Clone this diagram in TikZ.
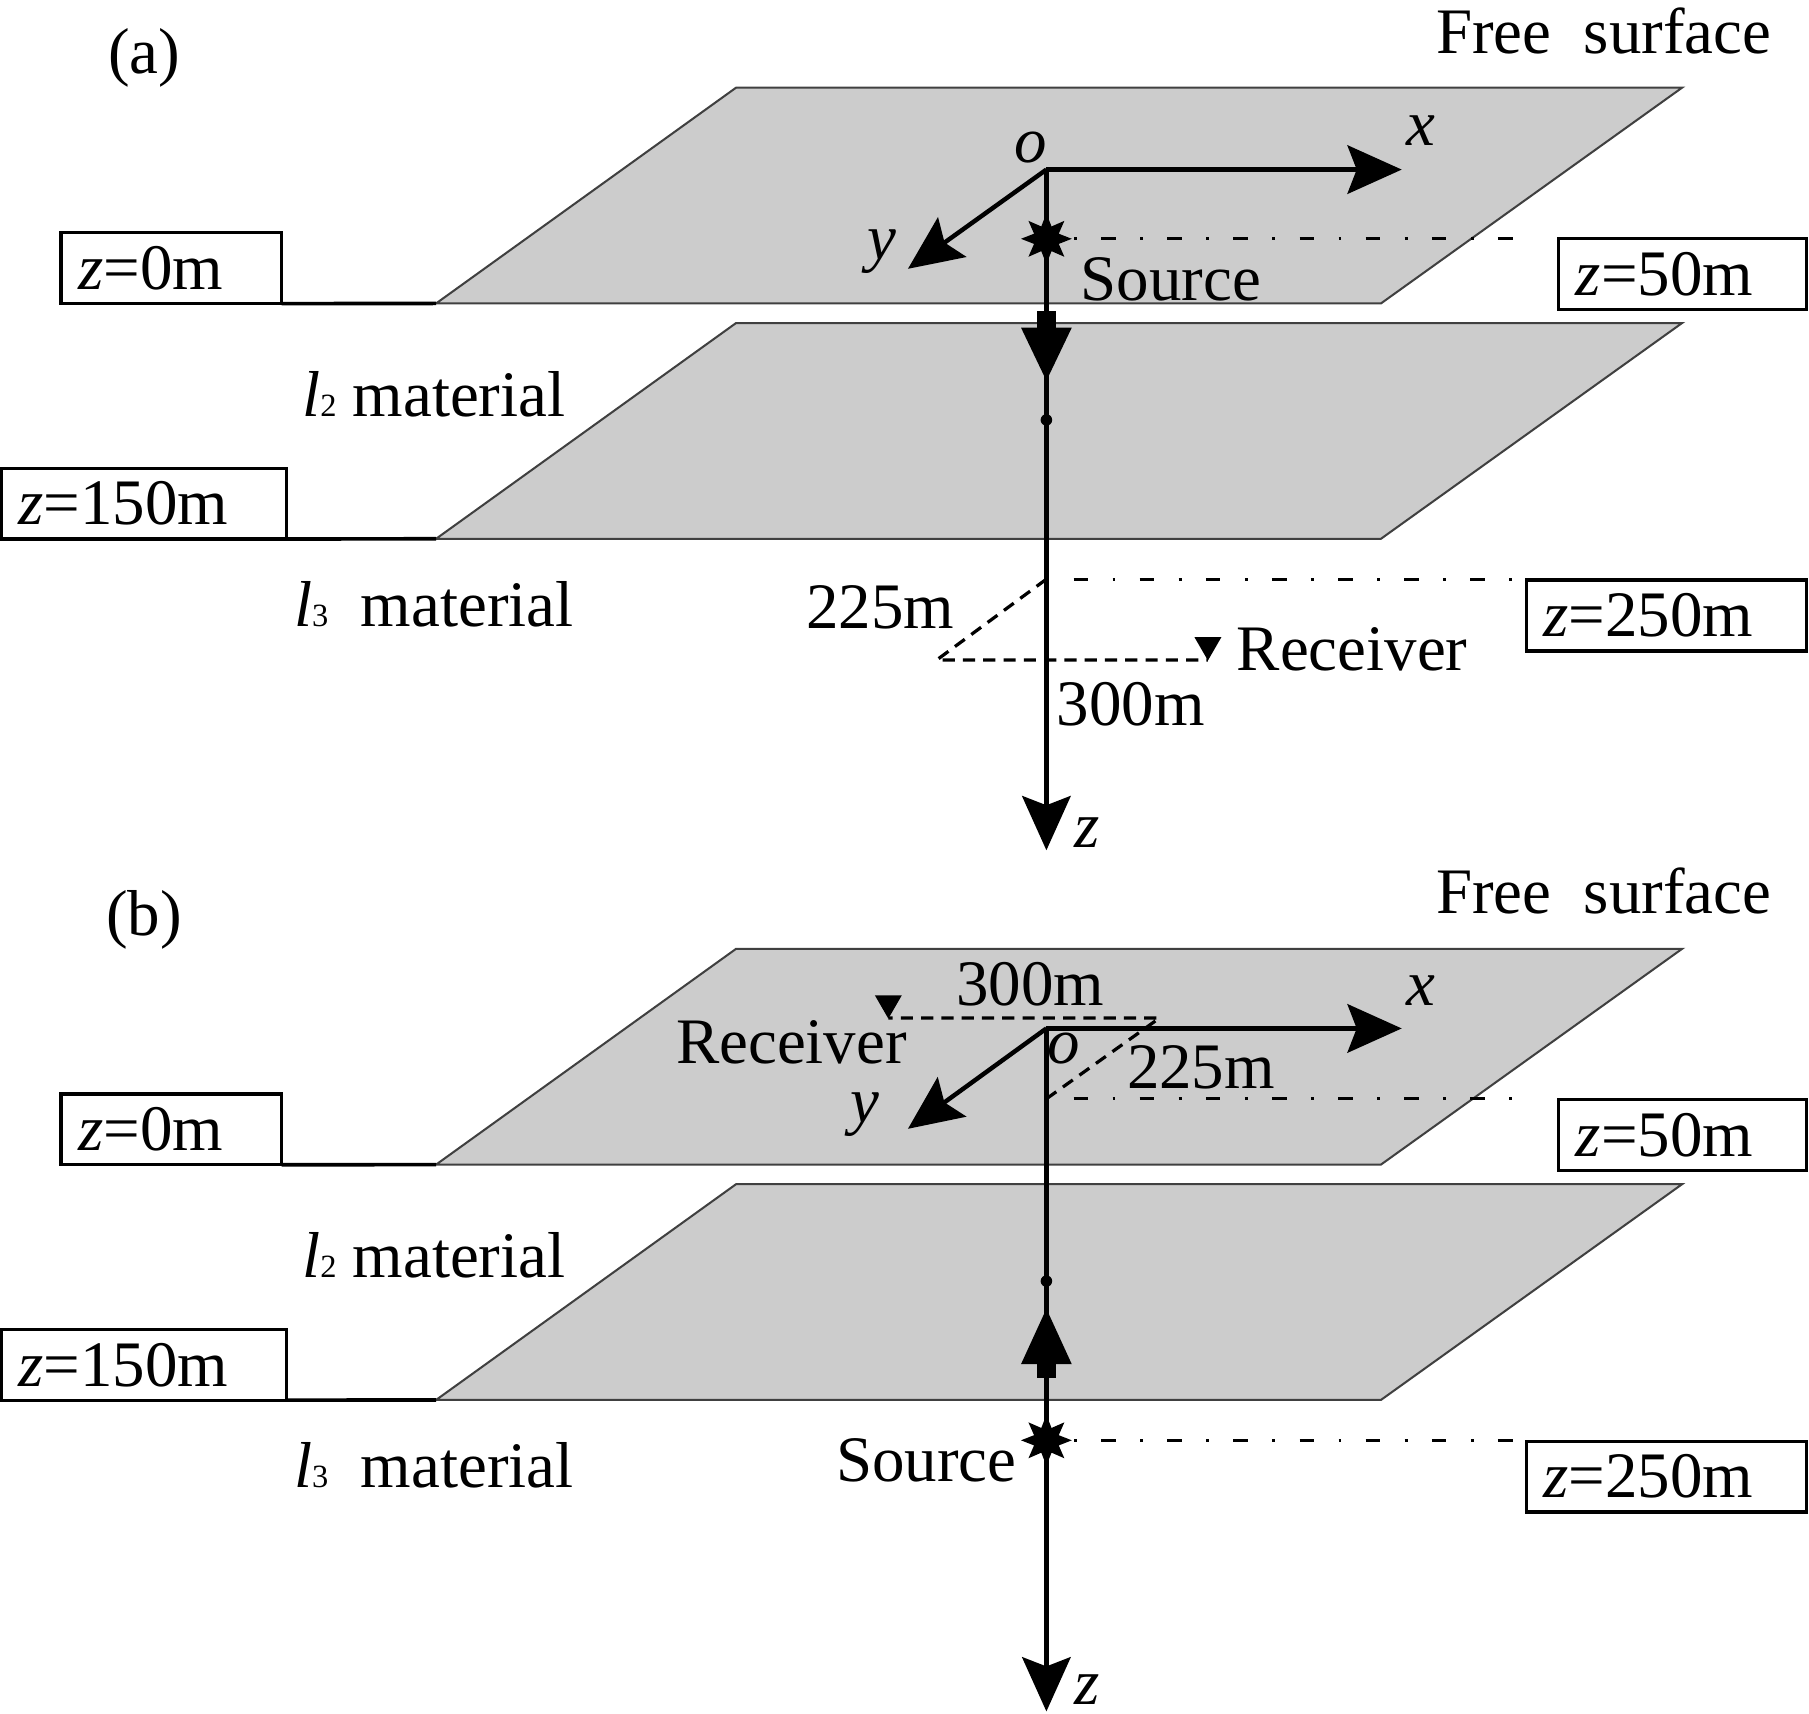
\documentclass[tikz,border=0pt]{standalone}
\usepackage{fontspec}
\setmainfont{Liberation Serif}
\usepackage{tikz}
\usetikzlibrary{shapes,shapes.geometric,arrows,arrows.meta,calc,positioning}
\tikzstyle{layer} = [fill=black!20, draw=black!75, line width=0.5pt]
\tikzstyle{depth} = [draw, rectangle, line width=0.8pt, outer sep=0pt, minimum height=0.61cm, inner xsep=0.15cm, align=left]
\tikzstyle{axis} = [draw, line width=1.1pt, -{Stealth[length=0.47cm, width=0.42cm, inset=0.08cm]}]
\tikzstyle{lead} = [draw, line width=0.9pt]
\tikzstyle{level} = [draw, line width=0.8pt, dash pattern=on 0.7pt off 6pt on 3.6pt off 6pt]
\tikzstyle{offset} = [draw, line width=0.8pt, dash pattern=on 3pt off 2pt]
\tikzstyle{source} = [star, star points=8, star point ratio=1.9, fill, inner sep=0pt, minimum size=0.44cm]
\tikzstyle{receiver} = [regular polygon, regular polygon sides=3, shape border rotate=180, fill, inner sep=0pt, minimum size=0.27cm]
\tikzstyle{pt} = [circle, fill, inner sep=0pt, minimum size=0.1cm]
\begin{document}
\begin{tikzpicture}[x=0.01cm, y=-0.01cm, font=\fontsize{16}{19}\selectfont]
    \useasboundingbox (0,0) rectangle (1568,1485);
    % (a) source near the surface
    \node (taga) at (125,50) {(a)};
    \node (freea) at (1390,27) {Free~~surface};
    \path[layer] (638,76) -- (1458,76) -- (1197,263) -- (378,263) -- cycle;
    \path[layer] (638,280) -- (1458,280) -- (1197,467) -- (378,467) -- cycle;
    \coordinate (s1a) at (378,263);
    \coordinate (s2a) at (378,467);
    \node[depth, text width=1.61cm] (z0a) at (148.5,232.5) {\textit{z}=0m};
    \node[depth, text width=2.17cm] (z150a) at (124.5,436.5) {\textit{z}=150m};
    \node[depth, text width=1.85cm] (z50a) at (1458.5,237.5) {\textit{z}=50m};
    \node[depth, text width=2.13cm] (z250a) at (1444.5,533.5) {\textit{z}=250m};
    \path[lead] (z0a.south east) -- (s1a);
    \path[lead] (z150a.south east) -- (s2a);
    \node (l2a) at (376,342) {\textit{l}{\footnotesize 2} material};
    \node (l3a) at (376,524) {\textit{l}{\footnotesize 3}~~material};
    \coordinate (oa) at (907,147);
    \coordinate (xa) at (1215,147);
    \coordinate (ya) at (787,233);
    \coordinate (za) at (907,737);
    \path[axis] (oa) -- (xa);
    \path[axis] (oa) -- (ya);
    \path[axis] (oa) -- (za);
    \node (olaba) at (893,128) {\textit{o}};
    \node (xlaba) at (1232,113) {\textit{x}};
    \node (ylaba) at (764,218) {\textit{y}};
    \node (zlaba) at (942,722) {\textit{z}};
    \node[source] (srca) at (907,207) {};
    \node (srclaba) at (1015,242) {Source};
    \coordinate (e50a) at (1325,207);
    \path[level] (srca) -- (e50a);
    \fill (899,270) rectangle (915,286);
    \fill (885,284) -- (929,284) -- (907,330) -- cycle;
    \node[pt] (pa) at (907,364) {};
    \coordinate (ca) at (907,502);
    \coordinate (e250a) at (1325,502);
    \path[level] (ca) -- (e250a);
    \coordinate (da) at (812,572);
    \coordinate (ra) at (1047,572);
    \node[receiver] (rxa) at (1047,559) {};
    \path[offset] (ca) -- (da) -- (ra);
    \node (d225a) at (763,526) {225m};
    \node (d300a) at (980,610) {300m};
    \node (rxlaba) at (1172,563) {Receiver};
    % (b) source in the lower layer
    \begin{scope}[yshift=-7.46cm]
        \node (tagb) at (125,51) {(b)};
        \node (freeb) at (1390,26) {Free~~surface};
        \path[layer] (638,76) -- (1458,76) -- (1197,263) -- (378,263) -- cycle;
        \path[layer] (638,280) -- (1458,280) -- (1197,467) -- (378,467) -- cycle;
        \coordinate (s1b) at (378,263);
        \coordinate (s2b) at (378,467);
        \node[depth, text width=1.61cm] (z0b) at (148.5,232.5) {\textit{z}=0m};
        \node[depth, text width=2.17cm] (z150b) at (124.5,436.5) {\textit{z}=150m};
        \node[depth, text width=1.85cm] (z50b) at (1458.5,237.5) {\textit{z}=50m};
        \node[depth, text width=2.13cm] (z250b) at (1444.5,533.5) {\textit{z}=250m};
        \path[lead] (z0b.south east) -- (s1b);
        \path[lead] (z150b.south east) -- (s2b);
        \node (l2b) at (376,342) {\textit{l}{\footnotesize 2} material};
        \node (l3b) at (376,524) {\textit{l}{\footnotesize 3}~~material};
        \coordinate (ob) at (907,145);
        \coordinate (xb) at (1215,145);
        \coordinate (yb) at (787,232);
        \coordinate (zb) at (907,737);
        \path[axis] (ob) -- (xb);
        \path[axis] (ob) -- (yb);
        \path[axis] (ob) -- (zb);
        \node[inner sep=1pt] (olabb) at (922,162) {\textit{o}};
        \node (xlabb) at (1232,112) {\textit{x}};
        \node (ylabb) at (750,220) {\textit{y}};
        \node (zlabb) at (942,718) {\textit{z}};
        \coordinate (cb) at (907,206);
        \coordinate (e50b) at (1325,206);
        \path[level] (cb) -- (e50b);
        \coordinate (db) at (1005,136);
        \coordinate (rb) at (770,136);
        \node[receiver] (rxb) at (770,123) {};
        \path[offset] (cb) -- (db) -- (rb);
        \node (d300b) at (893,107) {300m};
        \node (d225b) at (1041,179) {225m};
        \node (rxlabb) at (686,157) {Receiver};
        \node[pt] (pb) at (907,364) {};
        \fill (899,434) rectangle (915,448);
        \fill (885,436) -- (929,436) -- (907,388) -- cycle;
        \node[source] (srcb) at (907,502) {};
        \node (srclabb) at (803,519) {Source};
        \coordinate (e250b) at (1325,502);
        \path[level] (srcb) -- (e250b);
    \end{scope}
\end{tikzpicture}
\end{document}
